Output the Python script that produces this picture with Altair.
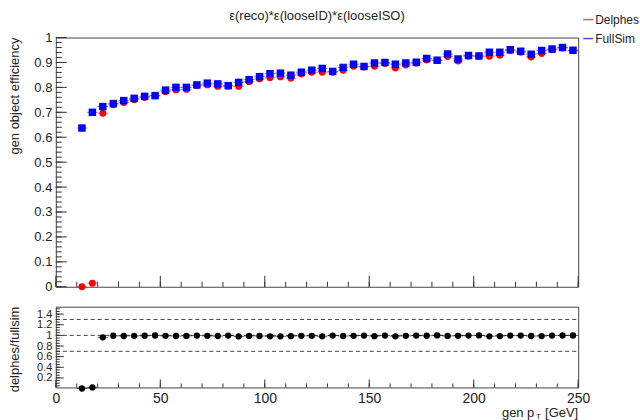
import altair as alt
import pandas as pd

# ---------------- data ----------------
pt_center = [12.5, 17.5, 22.5, 27.5, 32.5, 37.5, 42.5, 47.5, 52.5, 57.5, 62.5, 67.5,
             72.5, 77.5, 82.5, 87.5, 92.5, 97.5, 102.5, 107.5, 112.5, 117.5, 122.5, 127.5,
             132.5, 137.5, 142.5, 147.5, 152.5, 157.5, 162.5, 167.5, 172.5, 177.5, 182.5, 187.5,
             192.5, 197.5, 202.5, 207.5, 212.5, 217.5, 222.5, 227.5, 232.5, 237.5, 242.5, 247.5]
half_width = 2.5

fullsim = [0.637, 0.700, 0.723, 0.735, 0.747, 0.756, 0.764, 0.767, 0.789, 0.800, 0.800, 0.810,
           0.817, 0.814, 0.807, 0.820, 0.831, 0.843, 0.855, 0.857, 0.849, 0.861, 0.869, 0.876,
           0.864, 0.880, 0.893, 0.884, 0.898, 0.900, 0.893, 0.898, 0.901, 0.916, 0.909, 0.934,
           0.914, 0.928, 0.926, 0.941, 0.941, 0.951, 0.945, 0.933, 0.948, 0.954, 0.960, 0.949]

delphes = [0.000, 0.014, 0.696, 0.730, 0.739, 0.750, 0.759, 0.766, 0.782, 0.790, 0.792, 0.807,
           0.810, 0.804, 0.805, 0.804, 0.823, 0.834, 0.839, 0.842, 0.837, 0.854, 0.861, 0.861,
           0.861, 0.869, 0.885, 0.882, 0.885, 0.896, 0.878, 0.890, 0.897, 0.910, 0.909, 0.924,
           0.906, 0.925, 0.925, 0.925, 0.929, 0.948, 0.941, 0.922, 0.936, 0.951, 0.958, 0.947]

ratio = [0.000, 0.020, 0.963, 0.993, 0.989, 0.992, 0.993, 0.998, 0.991, 0.988, 0.990, 0.996,
         0.991, 0.988, 0.997, 0.980, 0.990, 0.989, 0.982, 0.982, 0.986, 0.992, 0.991, 0.983,
         0.997, 0.988, 0.991, 0.997, 0.986, 0.996, 0.983, 0.991, 0.996, 0.993, 1.000, 0.990,
         0.991, 0.997, 1.000, 0.983, 0.987, 0.997, 0.996, 0.988, 0.987, 0.997, 0.998, 0.998]

top_y_labels = [0, 0.1, 0.2, 0.3, 0.4, 0.5, 0.6, 0.7, 0.8, 0.9, 1.0]
top_y_minor = [round(0.02 * i, 2) for i in range(51)]
x_major = [0, 50, 100, 150, 200, 250]
x_minor = [10 * i for i in range(26)]
bot_y_labels = [0.2, 0.4, 0.6, 0.8, 1.0, 1.2, 1.4]
bot_y_minor = [round(0.05 * i, 2) for i in range(1, 31)]
ref_lines = [0.7, 1.0, 1.3]

title_text = "ε(reco)*ε(looseID)*ε(looseISO)"
legend_names = ["Delphes", "FullSim"]
legend_colors = ["#ff2020", "#2020ff"]

# ---------------- geometry ----------------
W = 524
H_TOP = 250
H_BOT = 81
LEFT_PAD = 55
TOP_PAD = 36
RIGHT_PAD = 61
BOTTOM_PAD = 33
RED = "#ff0000"
BLUE = "#0000ff"
FONT = "Liberation Sans"

lo = [p - half_width for p in pt_center]
hi = [p + half_width for p in pt_center]
df = pd.DataFrame({"pt": pt_center, "lo": lo, "hi": hi,
                   "delphes": delphes, "fullsim": fullsim, "ratio": ratio})

xs = alt.Scale(domain=[0, 250], nice=False, zero=False)
ys_top = alt.Scale(domain=[0, 1.0], nice=False, zero=False)
ys_bot = alt.Scale(domain=[0.02, 1.54], nice=False, zero=False)

base = alt.Chart(df)

AX_TOP_X = alt.Axis(labels=False, ticks=False, domain=False, grid=False, title=None)
AX_TOP_Y = alt.Axis(values=top_y_labels, format="~g", ticks=False, domain=False, grid=False,
                    title=None, labelFontSize=13, labelPadding=4, labelColor="#222",
                    labelFont=FONT, labelOverlap=False)
AX_BOT_X = alt.Axis(values=x_major, format="d", ticks=False, domain=False, grid=False,
                    title=None, labelFontSize=14, labelPadding=4, labelColor="#222",
                    labelFont=FONT, labelFlush=False, labelOverlap=False)
AX_BOT_Y = alt.Axis(values=bot_y_labels, format="~g", ticks=False, domain=False, grid=False,
                    title=None, labelFontSize=11, labelPadding=4, labelColor="#222",
                    labelFont=FONT, labelOverlap=False)

red_err = base.mark_rule(color=RED, strokeWidth=1, opacity=0.55).encode(
    x=alt.X("lo:Q", scale=xs, axis=AX_TOP_X),
    x2="hi:Q",
    y=alt.Y("delphes:Q", scale=ys_top, axis=AX_TOP_Y),
)
red_pts = base.mark_circle(color=RED, size=48, opacity=1).encode(
    x=alt.X("pt:Q", scale=xs, axis=AX_TOP_X),
    y=alt.Y("delphes:Q", scale=ys_top, axis=AX_TOP_Y),
)
blue_err = base.mark_rule(color=BLUE, strokeWidth=1, opacity=0.55).encode(
    x=alt.X("lo:Q", scale=xs, axis=AX_TOP_X),
    x2="hi:Q",
    y=alt.Y("fullsim:Q", scale=ys_top, axis=AX_TOP_Y),
)
blue_pts = base.mark_square(color=BLUE, size=56, opacity=1).encode(
    x=alt.X("pt:Q", scale=xs, axis=AX_TOP_X),
    y=alt.Y("fullsim:Q", scale=ys_top, axis=AX_TOP_Y),
)

tick_col = "#333"
def y_ticks(vals, scale, axis, length):
    return alt.Chart(pd.DataFrame({"v": vals})).mark_rule(color=tick_col, strokeWidth=1).encode(
        y=alt.Y("v:Q", scale=scale, axis=axis), x=alt.value(0), x2=alt.value(length))

def x_ticks(vals, axis, height, length):
    return alt.Chart(pd.DataFrame({"v": vals})).mark_rule(color=tick_col, strokeWidth=1).encode(
        x=alt.X("v:Q", scale=xs, axis=axis), y=alt.value(height), y2=alt.value(height - length))

def text_layer(txt, x, y, size, align="center", angle=0, color="#222", baseline="middle"):
    return alt.Chart(alt.Data(values=[{"t": txt}])).mark_text(
        align=align, baseline=baseline, fontSize=size, font=FONT, color=color, angle=angle
    ).encode(text="t:N", x=alt.value(x), y=alt.value(y))

def hline(x1, x2, y, color, opacity=1.0, width=1.0):
    return alt.Chart(alt.Data(values=[{}])).mark_rule(
        color=color, strokeWidth=width, opacity=opacity
    ).encode(x=alt.value(x1), x2=alt.value(x2), y=alt.value(y))

legend_y = [-18, 1]
legend_layers = []
for name, col, ly in zip(legend_names, legend_colors, legend_y):
    legend_layers.append(hline(W + 5, W + 15, ly, col, 0.8, 1.5))
    legend_layers.append(text_layer(name, W + 17, ly, 12, align="left"))

top = alt.layer(
    red_err, blue_err,
    y_ticks(top_y_minor, ys_top, AX_TOP_Y, 6), y_ticks(top_y_labels, ys_top, AX_TOP_Y, 11),
    x_ticks(x_minor, AX_TOP_X, H_TOP, 5), x_ticks(x_major, AX_TOP_X, H_TOP, 11),
    red_pts, blue_pts,
    text_layer(title_text, W / 2, -22, 13),
    text_layer("gen object efficiency", -41, 0, 13, align="right", angle=270),
    *legend_layers,
    hline(-LEFT_PAD, W + RIGHT_PAD, -TOP_PAD, "#ffffff", 0.0),
).properties(width=W, height=H_TOP)

# ---------------- bottom panel ----------------
dash = alt.Chart(pd.DataFrame({"v": ref_lines})).mark_rule(
    color="#444", strokeWidth=1, strokeDash=[4, 3]).encode(
    y=alt.Y("v:Q", scale=ys_bot, axis=AX_BOT_Y), x=alt.value(0), x2=alt.value(W))

ratio_err = base.mark_rule(color="#000", strokeWidth=1, opacity=0.6).encode(
    x=alt.X("lo:Q", scale=xs, axis=AX_BOT_X),
    x2="hi:Q",
    y=alt.Y("ratio:Q", scale=ys_bot, axis=AX_BOT_Y),
)
ratio_pts = base.mark_circle(color="#000", size=40, opacity=1).encode(
    x=alt.X("pt:Q", scale=xs, axis=AX_BOT_X),
    y=alt.Y("ratio:Q", scale=ys_bot, axis=AX_BOT_Y),
)

bottom = alt.layer(
    dash, ratio_err,
    y_ticks(bot_y_minor, ys_bot, AX_BOT_Y, 4), y_ticks(bot_y_labels, ys_bot, AX_BOT_Y, 8),
    x_ticks(x_minor, AX_BOT_X, H_BOT, 4), x_ticks(x_major, AX_BOT_X, H_BOT, 8),
    ratio_pts,
    text_layer("delphes/fullsim", -41, 0, 13, align="right", angle=270),
    text_layer("[GeV]", W, 107, 13, align="right"),
    text_layer("T", W - 40, 111, 8, align="center"),
    text_layer("gen p", W - 44, 107, 13, align="right"),
    hline(-LEFT_PAD, W + RIGHT_PAD, H_BOT + BOTTOM_PAD, "#ffffff", 0.0),
).properties(width=W, height=H_BOT)

chart = alt.vconcat(top, bottom, spacing=20, bounds="flush").properties(
    padding=0,
    background="white",
).configure_view(stroke="#444", strokeWidth=1)

chart.save("out.html", embed_options={"renderer": "svg", "actions": False})
